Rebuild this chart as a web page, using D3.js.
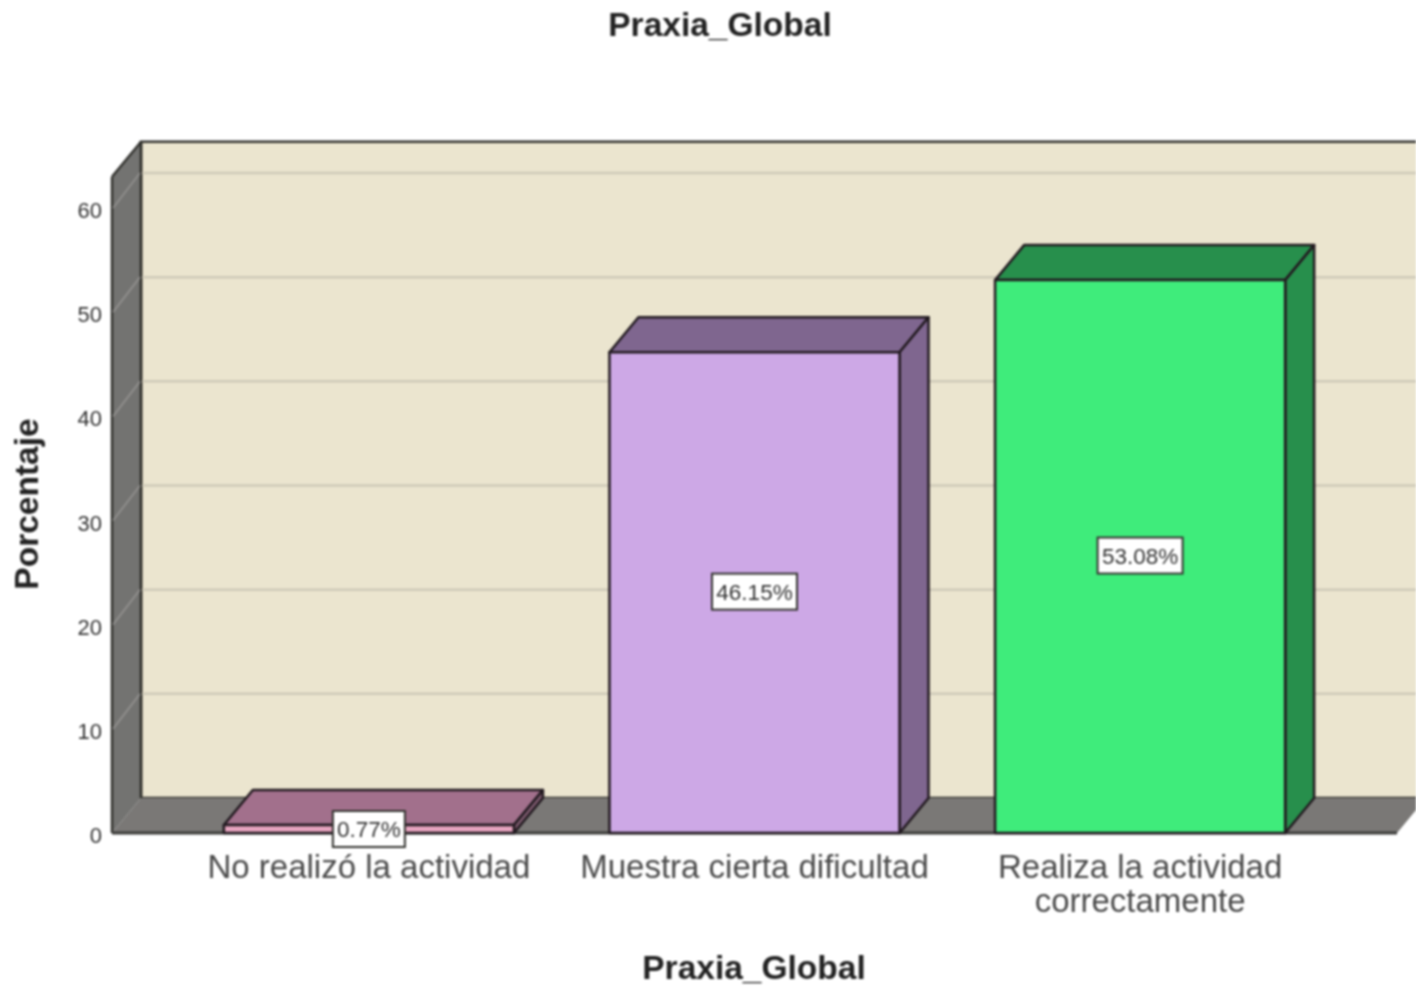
<!DOCTYPE html>
<html><head><meta charset="utf-8">
<script src="https://cdn.jsdelivr.net/npm/d3@7/dist/d3.min.js"></script>
<style>html,body{margin:0;padding:0;background:#fff}svg{display:block;filter:blur(0.8px)}text{font-family:"Liberation Sans",Arial,sans-serif}</style>
</head><body><svg id="c" width="1416" height="986"></svg>
<script>
const chartTitle = "Praxia_Global";
const xTitle = "Praxia_Global";
const yTitle = "Porcentaje";
const categories = ["No realizó la actividad","Muestra cierta dificultad","Realiza la actividad correctamente"];
const categoryLines = [["No realizó la actividad"],["Muestra cierta dificultad"],["Realiza la actividad","correctamente"]];
const percentages = [0.77,46.15,53.08];
const valueLabels = ["0.77%","46.15%","53.08%"];
const yTicks = [0,10,20,30,40,50,60];
const frontColors = ["#e8a5c0","#cda8e6","#3fec7b"];
const topColors = ["#a2708c","#7f668f","#278f4c"];
const sideColors = ["#7d5a6e","#7f668f","#278f4c"];

const svg = d3.select("#c");
const dx = 29, dy = -35;
const y = d3.scaleLinear().domain([0,60]).range([833,208]);
const yMax = 63;
const x = d3.scaleBand().domain(categories).range([112,1397]).paddingInner(0.2477).paddingOuter(0.29);
const line = "#221a20";
const P = pts => "M"+pts.map(p=>p.join(",")).join("L")+"Z";

const xL = x.range()[0], xR = x.range()[1];
// back wall
svg.append("rect").attr("x",xL+dx).attr("y",y(yMax)+dy).attr("width",1416-xL-dx+5).attr("height",y(0)-y(yMax))
  .attr("fill","#ebe5cf").attr("stroke","#33332e").attr("stroke-width",2.5);
// floor
svg.append("path").attr("d",P([[xL,y(0)],[xL+dx,y(0)+dy],[xR+dx,y(0)+dy],[xR,y(0)]])).attr("fill","#7a7876");
svg.append("line").attr("x1",xL).attr("x2",xR).attr("y1",y(0)).attr("y2",y(0)).attr("stroke","#3c3c3a").attr("stroke-width",3);
// left wall
svg.append("path").attr("d",P([[xL,y(0)],[xL,y(yMax)],[xL+dx,y(yMax)+dy],[xL+dx,y(0)+dy]])).attr("fill","#737371");
svg.append("line").attr("x1",xL).attr("x2",xL).attr("y1",y(yMax)).attr("y2",y(0)).attr("stroke","#33332f").attr("stroke-width",2.5);
svg.append("line").attr("x1",xL).attr("x2",xL+dx).attr("y1",y(yMax)).attr("y2",y(yMax)+dy).attr("stroke","#33332f").attr("stroke-width",2.5);
svg.append("line").attr("x1",xL+dx).attr("x2",xL+dx).attr("y1",y(yMax)+dy).attr("y2",y(0)+dy).attr("stroke","#2c2c28").attr("stroke-width",2.5);
// gridlines
const gridTicks = yTicks.filter(d=>d>0);
svg.selectAll(".g").data(gridTicks).join("line").attr("x1",xL+dx+1).attr("x2",1416).attr("y1",d=>y(d)+dy).attr("y2",d=>y(d)+dy).attr("stroke","#cfcab8").attr("stroke-width",2.5);
svg.selectAll(".gw").data(gridTicks).join("line").attr("x1",xL+1).attr("x2",xL+dx-1).attr("y1",d=>y(d)).attr("y2",d=>y(d)+dy).attr("stroke","#8f8e8c").attr("stroke-width",2);
// y tick labels
svg.selectAll(".yt").data(yTicks).join("text").attr("x",102).attr("y",d=>y(d)+10).attr("text-anchor","end").attr("fill","#333").style("font-size","22px").text(d=>d);
// bars
categories.forEach((c,i)=>{
  const x0=x(c), x1=x0+x.bandwidth(), yT=y(percentages[i]), yB=y(0);
  const g=svg.append("g").attr("stroke",line).attr("stroke-width",2.5).attr("stroke-linejoin","round");
  g.append("path").attr("d",P([[x0,yT],[x0+dx,yT+dy],[x1+dx,yT+dy],[x1,yT]])).attr("fill",topColors[i]);
  g.append("path").attr("d",P([[x1,yT],[x1+dx,yT+dy],[x1+dx,yB+dy],[x1,yB]])).attr("fill",sideColors[i]);
  g.append("rect").attr("x",x0).attr("y",yT).attr("width",x.bandwidth()).attr("height",yB-yT).attr("fill",frontColors[i]);
});
// value labels
categories.forEach((c,i)=>{
  const cx=x(c)+x.bandwidth()/2, cy=i===0?829:y(percentages[i]/2)-1;
  const w=i===0?72:85, h=36;
  svg.append("rect").attr("x",cx-w/2).attr("y",cy-h/2).attr("width",w).attr("height",h).attr("fill","#fff").attr("stroke","#33332f").attr("stroke-width",2);
  svg.append("text").attr("x",cx).attr("y",cy+8).attr("text-anchor","middle").attr("font-size",22.5).attr("fill","#333").text(valueLabels[i]);
});
// category labels
categories.forEach((c,i)=>{
  const cx=x(c)+x.bandwidth()/2;
  categoryLines[i].forEach((t,j)=>{
    svg.append("text").attr("x",cx).attr("y",878+j*34).attr("text-anchor","middle").attr("font-size",33).attr("fill","#4a4a4a").text(t);
  });
});
// titles
svg.append("text").attr("x",720).attr("y",36).attr("text-anchor","middle").attr("font-size",33.5).attr("font-weight","bold").attr("fill","#222").text(chartTitle);
svg.append("text").attr("x",754).attr("y",979).attr("text-anchor","middle").attr("font-size",33.5).attr("font-weight","bold").attr("fill","#222").text(xTitle);
svg.append("text").attr("transform","translate(38,504) rotate(-90)").attr("text-anchor","middle").attr("font-size",33.5).attr("font-weight","bold").attr("fill","#222").text(yTitle);
</script></body></html>
